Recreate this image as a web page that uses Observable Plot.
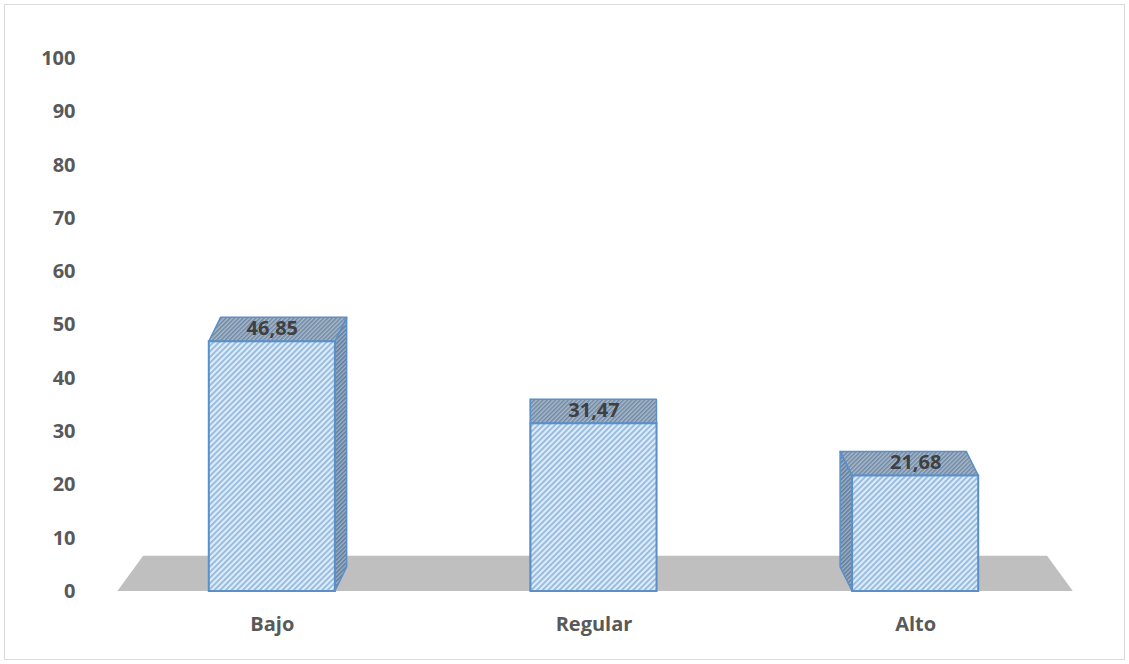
<!DOCTYPE html>
<html><head><meta charset="utf-8">
<script src="https://cdn.jsdelivr.net/npm/d3@7"></script>
<script src="https://cdn.jsdelivr.net/npm/@observablehq/plot@0.6"></script>
<style>
body{margin:0;background:#fff;}
#wrap{position:relative;width:1129px;height:664px;}
#frame{position:absolute;left:4px;top:4px;width:1119px;height:654px;border:1px solid #d9d9d9;pointer-events:none;}
svg{font-family:"Open Sans",sans-serif;}
</style></head><body><div id="wrap"><div id="frame"></div></div>
<script>
const categories = ["Bajo", "Regular", "Alto"];
const values = [46.85, 31.47, 21.68];
const valueLabels = ["46,85", "31,47", "21,68"];
const yTicks = [0, 10, 20, 30, 40, 50, 60, 70, 80, 90, 100];

// 3D styling constants
const half = 0.196, depth = 4.5, persp = 0.037, vanish = 1.49;

const bars = categories.map((c, i) => {
  const cx = i + 0.5;
  const dx = persp * (vanish - cx);
  return {c, v: values[i], label: valueLabels[i], cx, l: cx - half, r: cx + half, dx};
});
const topFaces = bars.flatMap(b => [
  {c: b.c, y: b.v, x1: b.l, x2: b.r},
  {c: b.c, y: b.v + depth, x1: b.l + b.dx, x2: b.r + b.dx}
]);
const sideFaces = bars.flatMap(b => {
  const xs = b.dx > 0 ? b.r : b.l;
  const pts = [{c: b.c, x: xs, y1: 0, y2: b.v}, {c: b.c, x: xs + b.dx, y1: depth, y2: b.v + depth}];
  return pts.sort((a, b2) => a.x - b2.x);
});
const floor = [{y: 0, x1: 0.02, x2: 2.99}, {y: 6.6, x1: 0.10, x2: 2.91}];

const chart = Plot.plot({
  width: 1129, height: 664,
  marginLeft: 111, marginRight: 53, marginTop: 58, marginBottom: 73,
  x: {domain: [0, 3]},
  y: {domain: [0, 100]},
  marks: [
    Plot.areaX(floor, {y: "y", x1: "x1", x2: "x2", fill: "#bfbfbf"}),
    Plot.axisY({ticks: yTicks, tickSize: 0, tickPadding: 36, fontSize: 20, fontWeight: "bold", fill: "#595959"}),
    Plot.axisX({ticks: [0.5, 1.5, 2.5], tickFormat: d => categories[Math.round(d - 0.5)], tickSize: 0, tickPadding: 25, fontSize: 20, fontWeight: "bold", fill: "#595959"}),
    Plot.areaY(sideFaces, {x: "x", y1: "y1", y2: "y2", z: "c", fill: "url(#hatchSide)", stroke: "#5b8fc7", strokeWidth: 1.5}),
    Plot.areaX(topFaces, {y: "y", x1: "x1", x2: "x2", z: "c", fill: "url(#hatchTop)", stroke: "#5b8fc7", strokeWidth: 1.5}),
    Plot.rect(bars, {x1: "l", x2: "r", y1: 0, y2: "v", fill: "url(#hatchFront)", stroke: "#5b8fc7", strokeWidth: 2}),
    Plot.text(bars, {x: "cx", y: "v", dy: -13, text: "label", fontSize: 20, fontWeight: "bold", fill: "#404040"})
  ]
});

const svg = d3.select(chart);
const defs = svg.insert("defs", ":first-child");
function hatch(id, bg, fg, size, sw) {
  const p = defs.append("pattern").attr("id", id).attr("patternUnits", "userSpaceOnUse")
    .attr("width", size).attr("height", size).attr("patternTransform", "rotate(45)");
  p.append("rect").attr("width", size).attr("height", size).attr("fill", bg);
  p.append("rect").attr("width", sw).attr("height", size).attr("fill", fg);
}
hatch("hatchFront", "#dcecfa", "#94b8dc", 4, 1.8);
hatch("hatchTop", "#a9b9ca", "#6f88a4", 3, 1.5);
hatch("hatchSide", "#9cb0c6", "#5d7b9c", 3, 1.5);

document.getElementById("wrap").prepend(chart);
</script>
</body></html>
